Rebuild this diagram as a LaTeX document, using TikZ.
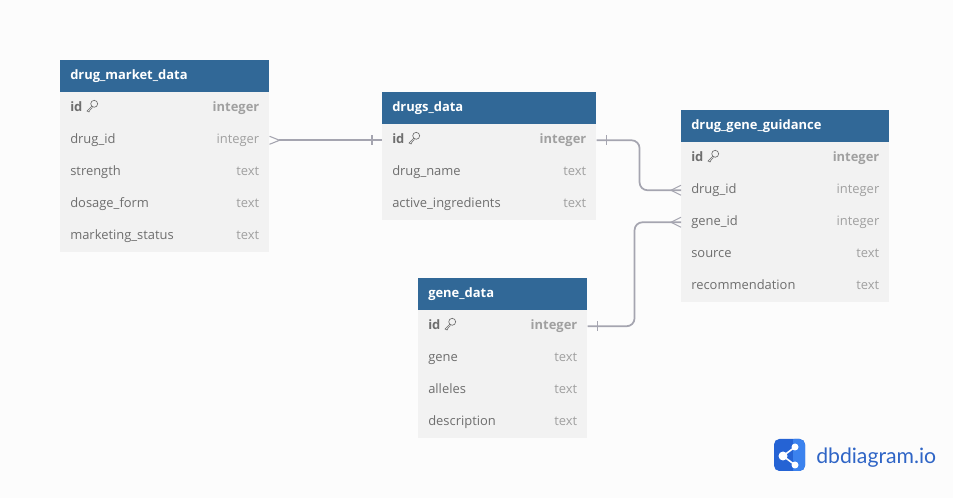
\documentclass[tikz,border=0pt]{standalone}
\usepackage{fontspec}
\setmainfont{Open Sans}
\newfontfamily\logofont{Lato}
\definecolor{headblue}{HTML}{316897}
\definecolor{rowgray}{HTML}{F2F2F2}
\definecolor{pagegray}{HTML}{FCFCFC}
\definecolor{nametext}{HTML}{6E6E6E}
\definecolor{typetext}{HTML}{A0A0A0}
\definecolor{linkgray}{HTML}{A5A5B0}
\definecolor{logodark}{HTML}{2563D4}
\definecolor{logolight}{HTML}{3B82EE}
\definecolor{logotext}{HTML}{2F65C6}
\tikzset{
  tablehead/.style={anchor=north west,fill=headblue,text=white,font=\fontsize{9.7}{12}\selectfont\bfseries,
    text width=#1-15pt,inner xsep=7.5pt,inner ysep=0pt,minimum height=24pt,text height=7.5pt,text depth=2pt},
  tablerow/.style={anchor=north west,fill=rowgray,text=nametext,font=\fontsize{9.7}{12}\selectfont,
    text width=#1-15pt,inner xsep=7.5pt,inner ysep=0pt,minimum height=24pt,text height=7.5pt,text depth=2pt},
  typelabel/.style={anchor=east,xshift=-7.5pt,text=typetext,font=\fontsize{9.7}{12}\selectfont,
    inner sep=0pt,text height=7.5pt,text depth=2pt},
  keyrow/.style={font=\fontsize{9.7}{12}\selectfont\bfseries},
  keytype/.style={typelabel,font=\fontsize{9.7}{12}\selectfont\bfseries},
  linkline/.style={draw=linkgray,line width=1.3pt,rounded corners=6pt},
  linkmark/.style={draw=linkgray,line width=.8pt},
  keyicon/.pic={
    \draw[nametext,line width=.5pt] (2.2,-2.2) circle (2.6pt);
    \draw[nametext,line width=.5pt] (0,0) -- (-5,5) -- (-3,6) -- (-2,4) -- (0.5,1.5);
  }
}
\begin{document}
\begin{tikzpicture}[x=0.75pt,y=-0.75pt]
\fill[pagegray,use as bounding box] (0,0) rectangle (953,498);

% drug_market_data
\node[tablehead=156.75pt] (market) at (60,60) {drug\_market\_data};
\node[tablerow=156.75pt,keyrow] (market_id) at (60,92) {id};
\node[tablerow=156.75pt] (market_drug_id) at (60,124) {drug\_id};
\node[tablerow=156.75pt] (market_strength) at (60,156) {strength};
\node[tablerow=156.75pt] (market_form) at (60,188) {dosage\_form};
\node[tablerow=156.75pt] (market_status) at (60,220) {marketing\_status};
\node[keytype] (market_id_t) at (market_id.east) {integer};
\node[typelabel] (market_drug_id_t) at (market_drug_id.east) {integer};
\node[typelabel] (market_strength_t) at (market_strength.east) {text};
\node[typelabel] (market_form_t) at (market_form.east) {text};
\node[typelabel] (market_status_t) at (market_status.east) {text};

% drugs_data
\node[tablehead=160.5pt] (drugs) at (382,92) {drugs\_data};
\node[tablerow=160.5pt,keyrow] (drugs_id) at (382,124) {id};
\node[tablerow=160.5pt] (drugs_name) at (382,156) {drug\_name};
\node[tablerow=160.5pt] (drugs_active) at (382,188) {active\_ingredients};
\node[keytype] (drugs_id_t) at (drugs_id.east) {integer};
\node[typelabel] (drugs_name_t) at (drugs_name.east) {text};
\node[typelabel] (drugs_active_t) at (drugs_active.east) {text};

% drug_gene_guidance
\node[tablehead=156pt] (guide) at (681,110) {drug\_gene\_guidance};
\node[tablerow=156pt,keyrow] (guide_id) at (681,142) {id};
\node[tablerow=156pt] (guide_drug_id) at (681,174) {drug\_id};
\node[tablerow=156pt] (guide_gene_id) at (681,206) {gene\_id};
\node[tablerow=156pt] (guide_source) at (681,238) {source};
\node[tablerow=156pt] (guide_rec) at (681,270) {recommendation};
\node[keytype] (guide_id_t) at (guide_id.east) {integer};
\node[typelabel] (guide_drug_id_t) at (guide_drug_id.east) {integer};
\node[typelabel] (guide_gene_id_t) at (guide_gene_id.east) {integer};
\node[typelabel] (guide_source_t) at (guide_source.east) {text};
\node[typelabel] (guide_rec_t) at (guide_rec.east) {text};

% gene_data
\node[tablehead=126.75pt] (gene) at (418,278) {gene\_data};
\node[tablerow=126.75pt,keyrow] (gene_id) at (418,310) {id};
\node[tablerow=126.75pt] (gene_name) at (418,342) {gene};
\node[tablerow=126.75pt] (gene_alleles) at (418,374) {alleles};
\node[tablerow=126.75pt] (gene_desc) at (418,406) {description};
\node[keytype] (gene_id_t) at (gene_id.east) {integer};
\node[typelabel] (gene_name_t) at (gene_name.east) {text};
\node[typelabel] (gene_alleles_t) at (gene_alleles.east) {text};
\node[typelabel] (gene_desc_t) at (gene_desc.east) {text};

\pic at (92,106) {keyicon};
\pic at (414,138) {keyicon};
\pic at (713,156) {keyicon};
\pic at (450,324) {keyicon};

% links
\draw[linkline] (market_drug_id.east) ++(9,0) -- (drugs_id.west);
\draw[linkline] (drugs_id.east) -- ++(43,0) |- (guide_drug_id.west);
\draw[linkline] (gene_id.east) -- ++(47,0) |- (guide_gene_id.west);

\draw[linkmark] (market_drug_id.east) ++(0,-4) -- ++(10,4) -- ++(-10,4);
\draw[linkmark] (guide_drug_id.west) ++(0,-5) -- ++(-10,5) -- ++(10,5);
\draw[linkmark] (guide_gene_id.west) ++(0,-5) -- ++(-10,5) -- ++(10,5);
\draw[linkmark] (drugs_id.west) ++(-10,-5) -- ++(0,10);
\draw[linkmark] (drugs_id.east) ++(10,-5) -- ++(0,10);
\draw[linkmark] (gene_id.east) ++(10,-5) -- ++(0,10);

% logo
\fill[logodark,rounded corners=4pt] (774,439) rectangle (805,471);
\fill[logolight,rounded corners=4pt] (789,439) rectangle (805,471);
\fill[logodark] (789,439) rectangle (793,471);
\draw[white,line width=1.2pt] (795,447) -- (783,456) -- (795,465);
\fill[white] (783,456) circle (4.5) (795,447) circle (3.5) (795,465) circle (3.5);
\node[anchor=base west,inner sep=0pt,text=logotext,font=\logofont\fontsize{15.9}{18}\selectfont] (logo) at (816,464) {dbdiagram.io};
\end{tikzpicture}
\end{document}
